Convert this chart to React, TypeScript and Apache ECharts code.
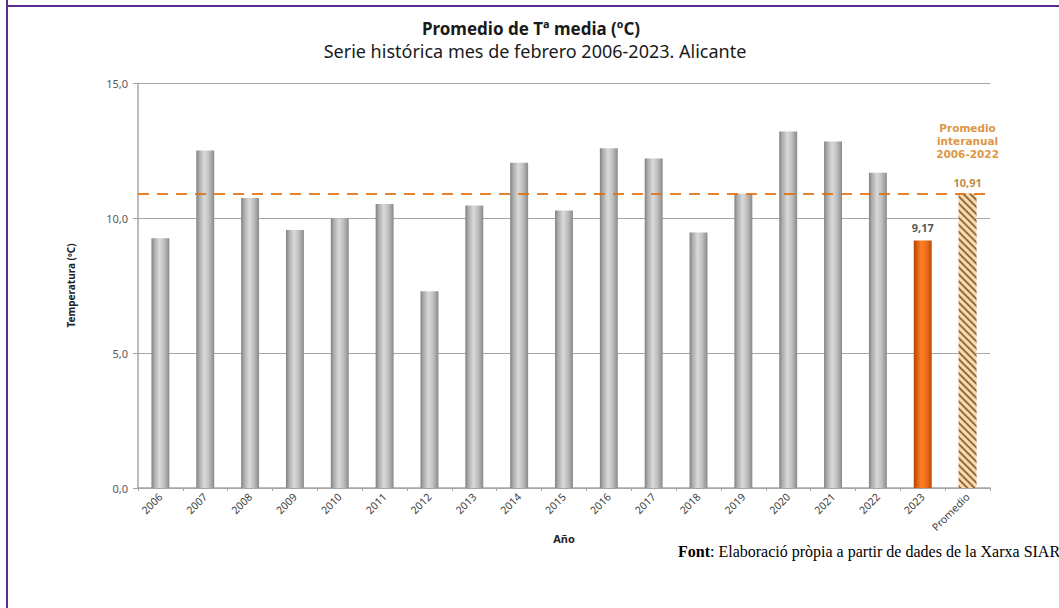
import React, { useEffect, useRef } from "react";
import * as echarts from "echarts";

const categories = ["2006", "2007", "2008", "2009", "2010", "2011", "2012", "2013", "2014", "2015", "2016", "2017", "2018", "2019", "2020", "2021", "2022", "2023", "Promedio"];
const febTemps = [9.25, 12.5, 10.74, 9.56, 9.98, 10.52, 7.29, 10.46, 12.05, 10.28, 12.58, 12.2, 9.46, 10.9, 13.2, 12.83, 11.68, 9.17];
const interannualAvg = 10.91;
const yTicks = [0, 5, 10, 15];

const fmt = (v: number) => v.toFixed(2).replace(".", ",");

export default function App() {
  const ref = useRef<HTMLDivElement>(null);
  useEffect(() => {
    if (!ref.current) return;
    const chart = echarts.init(ref.current, null, { renderer: "svg" });
    const grayGrad = new echarts.graphic.LinearGradient(0, 0, 1, 0, [
      { offset: 0, color: "#7f7f7f" },
      { offset: 0.15, color: "#a8a8a8" },
      { offset: 0.45, color: "#dadada" },
      { offset: 0.7, color: "#c0c0c0" },
      { offset: 1, color: "#8a8a8a" },
    ]);
    const orangeGrad = new echarts.graphic.LinearGradient(0, 0, 1, 0, [
      { offset: 0, color: "#b04600" },
      { offset: 0.4, color: "#ff7f27" },
      { offset: 0.7, color: "#f07020" },
      { offset: 1, color: "#b84a00" },
    ]);
    const lastYear = febTemps.length - 1;
    const data: any[] = febTemps.map((v, i) => {
      if (i === lastYear) {
        return {
          value: v,
          itemStyle: { color: orangeGrad },
          label: { show: true, position: "top", distance: 7, color: "#595959", fontWeight: "bold", fontSize: 11, fontFamily: "Noto Sans", formatter: () => fmt(v) },
        };
      }
      return { value: v, itemStyle: { color: grayGrad } };
    });
    data.push({
      value: interannualAvg,
      itemStyle: {
        color: "#f6dcb4",
        decal: {
          symbol: "rect",
          dashArrayX: [1, 0],
          dashArrayY: [2, 3],
          rotation: Math.PI / 4,
          color: "#9a6a3a",
          symbolSize: 1,
        },
      },
      label: { show: true, position: "top", distance: 5, color: "#c08a48", fontWeight: "bold", fontSize: 11, fontFamily: "Noto Sans", formatter: () => fmt(interannualAvg) },
    });

    chart.setOption({
      animation: false,
      backgroundColor: "#ffffff",
      grid: { left: 138, right: 69, top: 83, bottom: 120 },
      xAxis: {
        type: "category",
        data: categories,
        name: "Año",
        nameLocation: "middle",
        nameGap: 45,
        nameMoveOverlap: false,
        nameTextStyle: { fontFamily: "Noto Sans", fontSize: 11, fontWeight: "bold", color: "#222" },
        axisLine: { lineStyle: { color: "#a6a6a6", width: 1.5 } },
        axisTick: { show: true, length: 3, lineStyle: { color: "#a6a6a6" } },
        axisLabel: { rotate: 45, fontFamily: "Noto Sans", fontSize: 10.5, color: "#404040", margin: 7, interval: 0 },
      },
      yAxis: {
        type: "value",
        min: 0,
        max: 15,
        interval: 5,
        name: "Temperatura (ºC)",
        nameLocation: "middle",
        nameGap: 62,
        nameMoveOverlap: false,
        nameTextStyle: { fontFamily: "Noto Sans", fontSize: 10, fontWeight: "bold", color: "#222" },
        axisLine: { show: true, lineStyle: { color: "#a6a6a6", width: 1.5 } },
        axisTick: { show: true, length: 5, lineStyle: { color: "#a6a6a6" } },
        splitLine: { lineStyle: { color: "#a6a6a6", width: 1.2 } },
        axisLabel: {
          fontFamily: "Noto Sans",
          fontSize: 11,
          color: "#595959",
          margin: 10,
          formatter: (v: number) => (yTicks.includes(v) ? v.toFixed(1).replace(".", ",") : ""),
        },
      },
      series: [
        {
          type: "bar",
          data,
          barWidth: "40%",
          markLine: {
            silent: true,
            symbol: "none",
            label: { show: false },
            lineStyle: { color: "#e36c09", type: [11, 8], width: 2.2, opacity: 0.85 },
            data: [{ yAxis: interannualAvg }],
          },
          markPoint: {
            symbol: "circle",
            symbolSize: 0,
            silent: true,
            data: [{ coord: ["Promedio", interannualAvg] }],
            label: {
              show: true,
              formatter: "Promedio\ninteranual\n2006-2022",
              offset: [0, -52],
              fontFamily: "DejaVu Sans",
              fontSize: 10.5,
              fontWeight: "bold",
              lineHeight: 13,
              align: "center",
              color: "#dc9645",
            },
          },
        },
      ],
      graphic: [
        { type: "line", shape: { x1: 7, y1: 0, x2: 7, y2: 608 }, style: { stroke: "#5b2d8e", lineWidth: 2 } },
        { type: "line", shape: { x1: 6, y1: 6, x2: 1059, y2: 6 }, style: { stroke: "#5b2d8e", lineWidth: 2 } },
        {
          type: "text",
          x: 531,
          y: 28,
          style: {
            text: "Promedio de Tª media (ºC)",
            fontFamily: "Noto Sans",
            fontSize: 17,
            fontWeight: "bold",
            fill: "#1a1a1a",
            align: "center",
            verticalAlign: "middle",
          },
        },
        {
          type: "text",
          x: 535,
          y: 51,
          style: {
            text: "Serie histórica mes de febrero 2006-2023. Alicante",
            fontFamily: "Noto Sans",
            fontSize: 18,
            fill: "#1a1a1a",
            align: "center",
            verticalAlign: "middle",
          },
        },
        {
          type: "text",
          left: 678,
          top: 543,
          style: {
            text: "{b|Font}: Elaboració pròpia a partir de dades de la Xarxa SIAR",
            fontFamily: "Liberation Serif",
            fontSize: 16,
            fill: "#000",
            rich: { b: { fontFamily: "Liberation Serif", fontSize: 16, fontWeight: "bold", fill: "#000" } },
          },
        },
      ],
    });
    return () => chart.dispose();
  }, []);
  return <div ref={ref} style={{ position: "absolute", left: 0, top: 0, width: 1059, height: 608 }} />;
}
